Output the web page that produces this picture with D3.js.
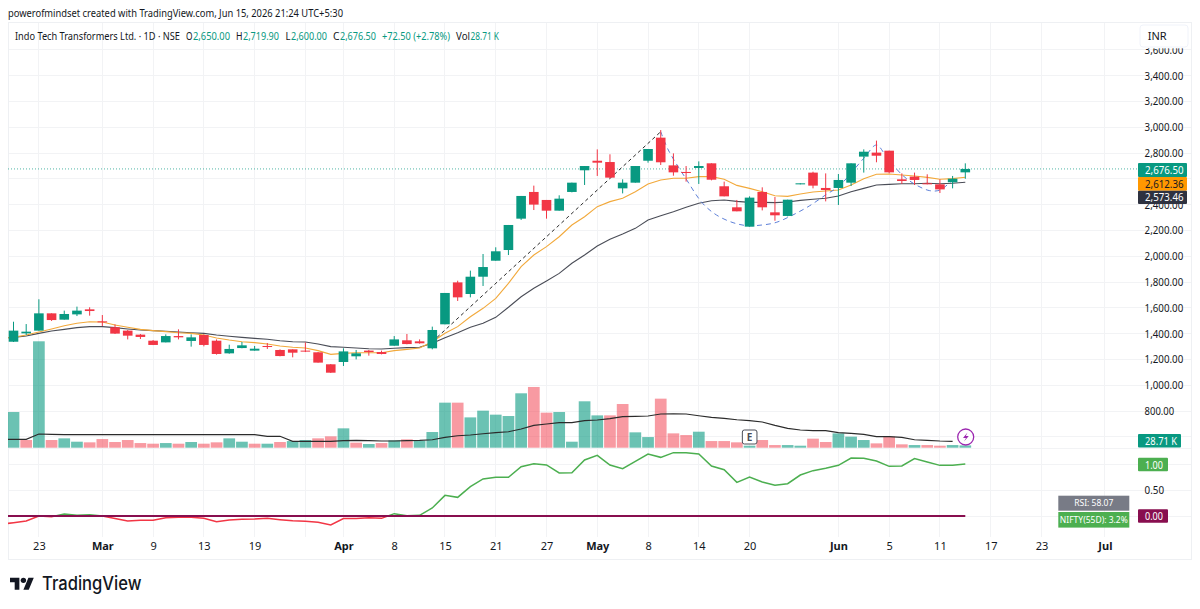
<!DOCTYPE html>
<html><head><meta charset="utf-8">
<script src="https://cdn.jsdelivr.net/npm/d3@7/dist/d3.min.js"></script>
<style>html,body{margin:0;padding:0;background:#fff}svg{display:block}text{font-family:"Noto Sans",sans-serif}</style>
</head><body><svg id="c" width="1200" height="609"></svg>
<script>
const opens=[1337,1402,1423,1557,1508,1549,1588,1495,1449,1423,1392,1345,1332,1381,1343,1389,1345,1247,1288,1268,1304,1273,1278,1268,1255,1162,1180,1224,1268,1257,1306,1348,1340,1286,1472,1797,1707,1841,1965,2048,2291,2498,2436,2353,2498,2666,2740,2730,2526,2570,2740,2919,2704,2653,2684,2720,2542,2379,2229,2498,2340,2312,2557,2648,2529,2529,2570,2772,2803,2818,2596,2617,2565,2557,2573,2650];
const highs=[1492,1474,1666,1557,1578,1609,1604,1544,1472,1428,1397,1350,1394,1433,1394,1394,1355,1314,1335,1304,1327,1278,1278,1332,1257,1164,1286,1273,1273,1268,1381,1397,1355,1454,1715,1810,1888,2017,2069,2242,2467,2547,2436,2472,2570,2699,2828,2790,2596,2699,2831,2978,2797,2699,2735,2720,2578,2436,2464,2534,2459,2438,2565,2655,2642,2637,2720,2828,2896,2818,2642,2648,2635,2596,2622,2719.9];
const lows=[1335,1389,1423,1498,1508,1536,1539,1459,1397,1355,1358,1311,1332,1355,1299,1301,1237,1244,1286,1268,1281,1224,1216,1257,1175,1095,1149,1200,1229,1239,1306,1317,1322,1278,1472,1653,1681,1769,1965,2009,2281,2358,2291,2353,2495,2552,2622,2604,2487,2570,2725,2707,2624,2578,2560,2588,2464,2348,2229,2355,2275,2309,2557,2526,2425,2397,2544,2648,2728,2642,2560,2552,2557,2490,2526,2600];
const closes=[1423,1415,1557,1505,1552,1578,1575,1487,1400,1384,1374,1312,1381,1371,1371,1312,1242,1281,1309,1283,1296,1226,1252,1262,1175,1097,1262,1247,1257,1242,1355,1319,1325,1428,1715,1681,1841,1916,2038,2242,2467,2400,2353,2446,2570,2699,2725,2609,2570,2699,2831,2728,2650,2645,2699,2593,2464,2348,2454,2379,2317,2438,2565,2547,2513,2591,2720,2810,2779,2650,2583,2591,2560,2518,2601,2676.5];
const volumes=[446,96,1330,96,117,75,67,108,71,96,58,50,58,50,71,50,67,117,75,50,50,71,83,96,117,142,242,63,46,58,92,104,88,196,563,563,379,463,413,396,680,759,438,446,75,580,404,404,546,192,133,613,179,158,200,83,83,67,25,96,33,33,25,113,71,179,138,96,54,138,42,33,33,25,33,28.71];
// series below start one bar before the first visible candle
const volMA=[104,104,104,171,167,163,163,163,163,163,163,163,163,163,163,163,163,163,163,163,163,142,142,79,79,79,79,88,92,88,83,83,88,92,100,129,150,158,175,188,200,234,279,296,313,313,338,346,363,388,392,396,421,425,421,400,379,367,350,338,321,279,242,221,213,213,188,179,167,138,138,129,100,92,83,79,79];
const emaFast=[1365,1371,1389,1412,1436,1461,1480,1492,1490,1467,1449,1433,1423,1415,1407,1402,1389,1366,1350,1337,1330,1319,1304,1294,1288,1268,1239,1247,1252,1252,1252,1268,1278,1288,1337,1402,1454,1531,1596,1673,1790,1919,2009,2074,2151,2242,2306,2384,2423,2449,2500,2560,2591,2604,2604,2617,2617,2596,2549,2526,2500,2469,2464,2482,2498,2505,2513,2552,2601,2635,2637,2629,2622,2611,2596,2601,2612.36];
const emaSlow=[1365,1371,1381,1402,1420,1433,1446,1454,1454,1446,1436,1428,1423,1418,1412,1407,1402,1389,1379,1371,1363,1356,1345,1337,1335,1319,1299,1294,1288,1283,1281,1286,1291,1294,1325,1368,1407,1449,1480,1526,1604,1686,1751,1808,1867,1945,2009,2079,2131,2172,2216,2281,2314,2345,2379,2410,2430,2436,2425,2417,2417,2415,2420,2433,2441,2449,2467,2500,2526,2552,2557,2562,2562,2565,2562,2565,2573.46];
const relStrength=[-0.16,-0.128,-0.096,0,-0.013,0.038,0.013,0.026,0,-0.05,-0.096,-0.083,-0.083,-0.032,-0.026,-0.026,-0.045,-0.109,-0.077,-0.064,-0.058,-0.045,-0.07,-0.09,-0.103,-0.12,-0.173,-0.05,-0.05,-0.032,-0.045,0.045,0.006,0.013,0.154,0.397,0.359,0.564,0.712,0.744,0.744,0.949,1.006,0.981,0.827,0.833,1.077,1.167,0.981,0.91,1.051,1.192,1.128,1.218,1.218,1.192,0.962,0.891,0.647,0.75,0.654,0.59,0.622,0.788,0.872,0.917,0.974,1.115,1.109,1.058,0.955,0.962,1.103,1.038,0.974,0.974,1.0];
const trendIdx=[33,51], trendPrice=[1337,2965];
const cupIdx=[51,51.6,53.05,54.3,55.4,56.7,57.8,59,60.1,61.4,62.7,64.1,65,67,68,68.7,69.9,70.9,72.2,73,74];
const cupPrice=[2965,2823,2591,2410,2319,2260,2237,2242,2262,2319,2389,2482,2539,2759,2862,2785,2642,2565,2508,2513,2591];
const timeTickIdx=[2,7,11,15,19,23,26,30,34,38,42,46,50,54,58,65,69,73,77,81,86];
const timeTickLabels=["23","Mar","9","13","19","25","Apr","8","15","21","27","May","8","14","20","Jun","5","11","17","23","Jul"];
const hiddenTimeLabels=["25"];
const boldLabels=["Mar","Apr","May","Jun","Jul"];
const priceTicks=[3600,3400,3200,3000,2800,2600,2400,2200,2000,1800,1600,1400,1200,1000,800];
const hiddenPriceLabels=[2600];
const gridOnly=[600];
const rsTicks=[1,0.5,0];

const L=8,R=1191.7,T=22.5,B=559,axisX=1138;
const UP="#089981",DN="#F23645",INK="#131722",GRID="#f2f3f5";
const svg=d3.select("#c");
const x=d3.scaleLinear().domain([0,75]).range([13.5,965.3]);
const y=d3.scaleLinear().domain([800,3400]).range([411,75.6]);
const yv=d3.scaleLinear().domain([0,1330]).range([447.7,341.3]);
const yr=d3.scaleLinear().domain([0,1]).range([516,464]);

// frame & grid
const g=svg.append("g").attr("stroke",GRID).attr("stroke-width",1).attr("shape-rendering","crispEdges");
priceTicks.concat(gridOnly).forEach(p=>g.append("line").attr("x1",L).attr("x2",R).attr("y1",y(p)).attr("y2",y(p)));
rsTicks.forEach(v=>g.append("line").attr("x1",L).attr("x2",R).attr("y1",yr(v)).attr("y2",yr(v)));
g.append("line").attr("x1",L).attr("x2",R).attr("y1",448.5).attr("y2",448.5);
timeTickIdx.forEach(i=>g.append("line").attr("x1",x(i)).attr("x2",x(i)).attr("y1",T).attr("y2",537));
svg.append("rect").attr("x",L).attr("y",T).attr("width",R-L).attr("height",B-T).attr("fill","none").attr("stroke","#eef0f3").attr("shape-rendering","crispEdges");

const clip=svg.append("defs");
clip.append("clipPath").attr("id","pane").append("rect").attr("x",L).attr("y",T).attr("width",R-L).attr("height",B-T);
clip.append("clipPath").attr("id","above").append("rect").attr("x",L).attr("y",T).attr("width",R-L).attr("height",yr(0)-T);
clip.append("clipPath").attr("id","below").append("rect").attr("x",L).attr("y",yr(0)).attr("width",R-L).attr("height",B-yr(0));

// volume
const vols=svg.append("g").attr("clip-path","url(#pane)");
vols.selectAll("rect").data(volumes).join("rect")
 .attr("x",(d,i)=>x(i)-5.85).attr("width",11.7)
 .attr("y",d=>yv(d)).attr("height",d=>yv(0)-yv(d))
 .attr("fill",(d,i)=>(i===0||closes[i]>=closes[i-1])?UP:DN).attr("opacity",(d,i)=>(i===0||closes[i]>=closes[i-1])?0.6:0.5);
const lineOf=(sc)=>d3.line().x((d,i)=>x(i-1)).y(d=>sc(d)).curve(d3.curveLinear);
svg.append("path").attr("clip-path","url(#pane)").attr("d",lineOf(yv)(volMA.slice(0,76))).attr("fill","none").attr("stroke","#2b2b2b").attr("stroke-width",1.1);

// MA lines
svg.append("path").attr("clip-path","url(#pane)").attr("d",lineOf(y)(emaSlow)).attr("fill","none").attr("stroke","#4a4d57").attr("stroke-width",1.1);
svg.append("path").attr("clip-path","url(#pane)").attr("d",lineOf(y)(emaFast)).attr("fill","none").attr("stroke","#f2a93b").attr("stroke-width",1.1);

// current price line
svg.append("line").attr("x1",L).attr("x2",axisX).attr("y1",y(closes[75])).attr("y2",y(closes[75])).attr("stroke",UP).attr("stroke-opacity",.7).attr("stroke-dasharray","1 2");

// drawings
svg.append("line").attr("x1",x(trendIdx[0])).attr("x2",x(trendIdx[1])).attr("y1",y(trendPrice[0])).attr("y2",y(trendPrice[1])).attr("stroke","#2b2b2b").attr("stroke-width",1).attr("stroke-dasharray","3.5 3");
svg.append("path").attr("d",d3.line().x(d=>x(d[0])).y(d=>y(d[1])).curve(d3.curveCatmullRom.alpha(.5))(cupIdx.map((c,i)=>[c,cupPrice[i]]))).attr("fill","none").attr("stroke","#5d7fd8").attr("stroke-width",1).attr("stroke-dasharray","5 4");

// candles
const cand=svg.append("g").selectAll("g").data(closes).join("g");
const col=i=>closes[i]>=opens[i]?UP:DN;
cand.append("line").attr("x1",(d,i)=>x(i)).attr("x2",(d,i)=>x(i)).attr("y1",(d,i)=>y(highs[i])).attr("y2",(d,i)=>y(lows[i])).attr("stroke",(d,i)=>col(i)).attr("stroke-width",1);
cand.append("rect").attr("x",(d,i)=>x(i)-4.8).attr("width",9.6)
 .attr("y",(d,i)=>y(Math.max(opens[i],closes[i])))
 .attr("height",(d,i)=>Math.max(1,Math.abs(y(opens[i])-y(closes[i]))))
 .attr("fill",(d,i)=>col(i));

// relative strength
const rl=lineOf(yr)(relStrength);
svg.append("path").attr("d",rl).attr("clip-path","url(#above)").attr("fill","none").attr("stroke","#4caf50").attr("stroke-width",1.5);
svg.append("path").attr("d",rl).attr("clip-path","url(#below)").attr("fill","none").attr("stroke","#f23645").attr("stroke-width",1.5);
svg.append("line").attr("x1",L).attr("x2",x(75)).attr("y1",yr(0)).attr("y2",yr(0)).attr("stroke","#880e4f").attr("stroke-width",2);

// axes
const fmt=d3.format(",.2f");
const styleTick=sel=>sel.attr("font-size",11).attr("fill",INK).style("font-family",'"Noto Sans",sans-serif');
const ax=svg.append("g").attr("transform",`translate(1144.6,0)`).call(d3.axisRight(y).tickValues(priceTicks.filter(p=>!hiddenPriceLabels.includes(p))).tickSize(0).tickPadding(0).tickFormat(fmt));
ax.select(".domain").remove();
styleTick(ax.selectAll("text")).attr("textLength",d=>d>=1000?38.6:29.5).attr("lengthAdjust","spacingAndGlyphs");
const ax2=svg.append("g").attr("transform",`translate(1144.6,0)`).call(d3.axisRight(yr).tickValues([0.5]).tickSize(0).tickPadding(0).tickFormat(d3.format(".2f")));
ax2.select(".domain").remove();
styleTick(ax2.selectAll("text")).attr("textLength",19.5).attr("lengthAdjust","spacingAndGlyphs");

const tAxis=svg.append("g").attr("transform","translate(0,542.5)").call(d3.axisBottom(x).tickValues(timeTickIdx.filter((d,i)=>!hiddenTimeLabels.includes(timeTickLabels[i]))).tickSize(0).tickPadding(0).tickFormat(d=>timeTickLabels[timeTickIdx.indexOf(d)]));
tAxis.select(".domain").remove();
styleTick(tAxis.selectAll("text")).attr("font-weight",d=>boldLabels.includes(timeTickLabels[timeTickIdx.indexOf(d)])?700:400);

// INR button
svg.append("rect").attr("x",1139).attr("y",24).attr("width",52).attr("height",24.3).attr("fill","#fff");
svg.append("rect").attr("x",1140).attr("y",25).attr("width",48).attr("height",22).attr("rx",3).attr("fill","#fff").attr("stroke","#f0f3fa");
svg.append("text").attr("x",1147.7).attr("y",40).attr("font-size",11).attr("fill",INK).text("INR");

// value labels
function tag(xx,yy,w,h,fill,txt,tc,len){
 svg.append("rect").attr("x",xx).attr("y",yy).attr("width",w).attr("height",h).attr("rx",1).attr("fill",fill);
 svg.append("text").attr("x",xx+7).attr("y",yy+h/2+4).attr("font-size",11).attr("fill",tc||"#fff").attr("textLength",len).attr("lengthAdjust","spacingAndGlyphs").text(txt);
}
tag(axisX,163,49,14,UP,"2,676.50","#fff",38.6);
tag(axisX,177,49,13.7,"#ff9800","2,612.36",INK,38.6);
tag(axisX,190.7,49,13.4,"#2e3240","2,573.46","#fff",38.6);
tag(axisX,434,43,13.4,UP,"28.71 K","#fff",32);
tag(axisX,457.7,30,13.6,"#4caf50","1.00","#fff",18);
tag(axisX,509.3,30,13.4,"#880e4f","0.00","#fff",18);
[["RSI: 58.07",495.7,15,"#787b86"],["NIFTY(55D): 3.2%",512,15.6,"#4caf50"]].forEach(a=>{
 svg.append("rect").attr("x",1058.3).attr("y",a[1]).attr("width",71).attr("height",a[2]).attr("fill",a[3]);
 svg.append("text").attr("x",1093.8).attr("y",a[1]+a[2]/2+3).attr("text-anchor","middle").attr("font-size",8.5).attr("fill","#fff").text(a[0]);
});

// E badge
svg.append("rect").attr("x",x(58)-7.2).attr("y",430).attr("width",14.6).attr("height",14).attr("rx",2).attr("fill","#fff").attr("stroke","#4a4d57").attr("stroke-width",1);
svg.append("text").attr("x",x(58)).attr("y",441).attr("text-anchor","middle").attr("font-size",10).attr("font-weight",700).attr("fill","#4a4d57").text("E");
// lightning
svg.append("circle").attr("cx",965.7).attr("cy",437).attr("r",8).attr("fill","#fff").attr("stroke","#9c27b0").attr("stroke-width",1.3);
svg.append("path").attr("d","M967.5 432.5 L963 438 L966 438 L964 441.5 L968.8 436 L965.8 436 Z").attr("fill","#9c27b0");

// header
svg.append("text").attr("x",8).attr("y",17).attr("font-size",11).attr("fill",INK).attr("textLength",335).attr("lengthAdjust","spacingAndGlyphs").text("powerofmindset created with TradingView.com, Jun 15, 2026 21:24 UTC+5:30");
const leg=svg.append("text").attr("y",39.5).attr("font-size",10.5);
[[15,"Indo Tech Transformers Ltd. · 1D · NSE",INK,165],[186,"O",INK,6.5],[193,"2,650.00",UP,37],[236,"H",INK,6.5],[243,"2,719.90",UP,36],[285.5,"L",INK,5],[291,"2,600.00",UP,36],[333,"C",INK,6.5],[340,"2,676.50",UP,36],[382,"+72.50 (+2.78%)",UP,68],[456,"Vol",INK,14],[470.5,"28.71 K",UP,28.5]].forEach(s=>{
 leg.append("tspan").attr("x",s[0]).attr("fill",s[2]).attr("textLength",s[3]).attr("lengthAdjust","spacingAndGlyphs").text(s[1]);
});

// logo
const lg=svg.append("g").attr("transform","translate(10,575) scale(0.67)").attr("fill","#131722");
lg.append("path").attr("d","M14 22H7V11H0V4h14v18zM28 22h-8l7.5-18h8L28 22z");
lg.append("circle").attr("cx",20).attr("cy",8).attr("r",4);
svg.append("text").attr("x",42).attr("y",590).attr("font-size",18.5).attr("font-weight",500).attr("fill","#131722").attr("textLength",99.5).attr("lengthAdjust","spacingAndGlyphs").style("font-family","Inter, sans-serif").text("TradingView");
</script></body></html>
